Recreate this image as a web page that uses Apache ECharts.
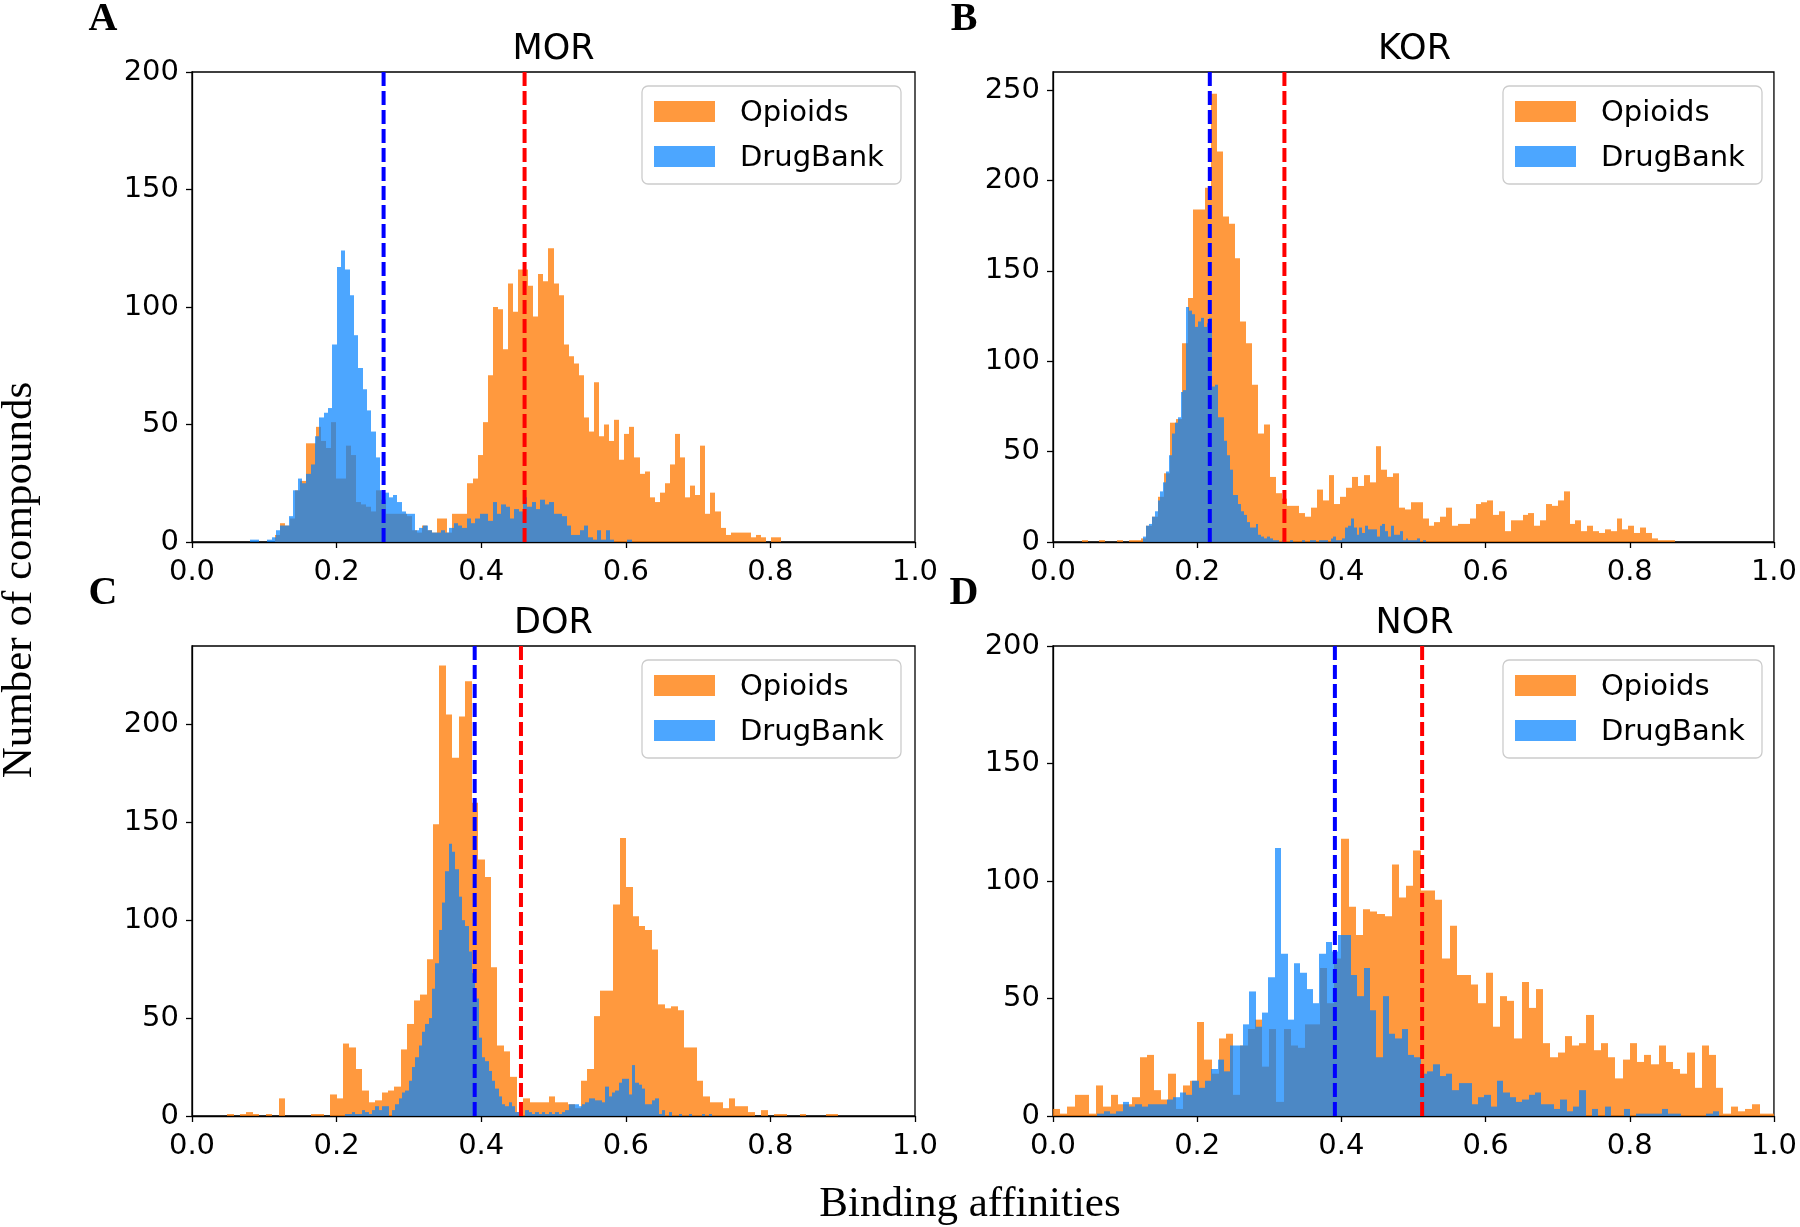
<!DOCTYPE html>
<html>
<head>
<meta charset="utf-8">
<title>Binding affinities</title>
<script src="https://cdn.jsdelivr.net/npm/echarts@6/dist/echarts.min.js"></script>
<style>
  html, body { margin: 0; padding: 0; background: #fff; }
  #chart { width: 1800px; height: 1227px; }
</style>
</head>
<body>
<div id="chart"></div>
<script>
// panel titles and letters
const panelTitles = ['MOR', 'KOR', 'DOR', 'NOR'];
const panelLetters = ['A', 'B', 'C', 'D'];
const seriesNames = ['Opioids', 'DrugBank'];
const yMax = [200, 260, 240, 200];

// mean lines (dashed)
const opioidMeans = [0.460, 0.321, 0.455, 0.512];
const drugbankMeans = [0.265, 0.2175, 0.391, 0.391];

// histograms: left edge of first bin, bin width, counts
const morOpioidsStart = 0.115, morOpioidsWidth = 0.007;
const morOpioids = [
  3,8,7,10,22,26,42,42,49,43,
  40,51,27,27,41,37,17,16,15,13,
  22,18,12,12,12,12,11,5,4,7,
  5,4,10,10,4,12,12,12,25,27,
  37,51,71,100,99,82,110,98,116,116,
  109,96,114,111,125,110,105,84,79,76,
  71,53,47,68,45,50,43,52,35,46,
  49,36,29,30,19,17,21,25,33,46,
  36,19,24,20,41,12,21,13,6,3,
  4,4,4,4,2,3,2,0,2,2
];
const morDrugBankStart = 0.08, morDrugBankWidth = 0.006;
const morDrugBank = [
  1,1,0,0,1,2,5,7,7,11,
  22,27,25,29,33,45,53,55,57,84,
  117,124,116,105,88,74,65,56,47,36,
  22,21,19,20,17,13,12,12,5,6,
  7,5,4,4,5,4,6,8,7,6,
  10,8,10,12,12,9,17,12,16,15,
  10,14,13,19,15,17,14,18,16,17,
  12,12,11,7,3,3,5,7,2,1,
  5,1,5,1,0,0,0,1
];

const korOpioidsStart = 0.040, korOpioidsWidth = 0.00815;
const korOpioids = [
  1,0,0,1,0,0,1,0,1,1,
  2,9,14,25,38,66,68,110,135,184,
  184,196,248,216,180,176,157,122,110,87,
  60,65,36,27,24,20,20,16,14,19,
  29,23,37,21,25,30,36,31,37,33,
  53,40,36,38,19,18,22,22,13,9,
  11,14,19,9,10,10,13,21,22,23,
  15,17,6,12,12,15,16,9,12,21,
  20,23,28,10,12,6,9,6,5,7,
  6,13,7,9,5,8,5,2,1,1,
  1
];
const korDrugBankStart = 0.125, korDrugBankWidth = 0.004;
const korDrugBank = [
  3,9,10,14,17,23,28,33,39,48,
  60,66,69,83,84,130,128,126,119,122,
  124,119,121,124,86,87,69,69,56,48,
  40,26,26,21,17,15,11,8,8,10,
  4,3,2,3,2,1,1,0,1,0,
  0,1,0,0,0,1,0,0,1,1,
  0,1,1,1,0,2,3,1,1,2,
  8,9,13,8,4,8,5,9,7,7,
  7,3,9,10,6,3,9,4,4,6,
  1,2,1,1,1,2,0,1
];

const dorOpioidsStart = 0.0397, dorOpioidsWidth = 0.0089;
const dorOpioids = [
  0,1,0,1,2,1,0,1,0,9,
  0,0,0,0,1,1,0,11,9,37,
  35,24,13,7,8,12,13,15,34,47,
  59,62,80,149,230,205,183,204,222,160,
  131,122,76,36,33,20,2,9,7,7,
  7,10,7,7,6,4,18,24,51,64,
  64,108,142,117,102,97,95,85,57,55,
  56,54,35,35,18,10,7,7,4,9,
  5,5,2,0,3,0,1,1,0,0,
  1,0,0,0,1,1
];
const dorDrugBankStart = 0.212, dorDrugBankWidth = 0.00461;
const dorDrugBank = [
  1,1,2,1,1,3,2,1,3,5,
  3,5,5,0,3,6,9,12,13,18,
  25,30,36,43,47,50,65,78,95,109,
  125,139,135,126,112,100,97,84,73,60,
  40,30,28,23,18,14,10,6,5,7,
  5,2,1,0,3,2,1,2,1,2,
  1,2,1,2,1,2,3,6,6,6,
  5,6,7,9,9,8,8,7,15,10,
  12,13,17,19,19,11,26,17,16,14,
  6,6,8,9,1,3,0,2,0,0,
  1,0,0,1,0,0,0,1,0,1
];

const norOpioidsStart = 0.0, norOpioidsWidth = 0.01;
const norOpioids = [
  3,1,4,9,9,1,13,4,9,5,
  5,8,25,26,11,7,18,3,13,15,
  40,24,18,33,35,9,30,37,41,21,
  37,6,37,30,29,39,39,63,48,67,
  118,89,77,88,87,86,85,107,93,98,
  113,96,96,92,67,81,60,60,56,48,
  61,38,51,49,33,57,46,54,31,25,
  27,34,30,31,43,28,31,25,16,24,
  31,23,26,22,30,23,20,18,27,12,
  30,26,12,1,4,2,3,5,1,1
];
const norDrugBankStart = 0.0437, norDrugBankWidth = 0.0088;
const norDrugBank = [
  0,0,1,2,1,2,6,4,5,4,
  5,5,5,7,8,10,9,15,12,15,
  20,24,19,30,30,39,53,38,44,59,
  114,69,41,65,61,54,48,69,74,70,
  77,77,60,51,63,45,25,51,35,33,
  37,26,25,18,19,22,17,18,11,14,
  14,5,8,9,4,15,10,8,6,7,
  9,10,5,5,3,7,2,4,11,0,
  3,0,4,0,0,3,0,1,1,1,
  1,3,1,1,0,0,0,0,1,2
];

const hists = [
  [[morOpioidsStart, morOpioidsWidth, morOpioids], [morDrugBankStart, morDrugBankWidth, morDrugBank]],
  [[korOpioidsStart, korOpioidsWidth, korOpioids], [korDrugBankStart, korDrugBankWidth, korDrugBank]],
  [[dorOpioidsStart, dorOpioidsWidth, dorOpioids], [dorDrugBankStart, dorDrugBankWidth, dorDrugBank]],
  [[norOpioidsStart, norOpioidsWidth, norOpioids], [norDrugBankStart, norDrugBankWidth, norDrugBank]]
];

// layout
const grids = [
  { left: 192, top: 72, width: 723, height: 470 },
  { left: 1053, top: 72, width: 723, height: 470 },
  { left: 192, top: 646, width: 723, height: 470 },
  { left: 1053, top: 646, width: 723, height: 470 }
];
const fillColors = ['rgba(255,127,14,0.8)', 'rgba(0,128,255,0.7)'];
const lineColors = ['#ff0000', '#0000ff'];
const tickFont = 'DejaVu Sans';

function toBins(start, width, counts) {
  return counts.map((c, i) => [start + i * width, start + (i + 1) * width, c]);
}

function binRenderer(color) {
  return function (params, api) {
    const top = api.coord([api.value(0), api.value(2)]);
    const base = api.coord([api.value(1), 0]);
    const x0 = Math.round(top[0]);
    const x1 = Math.round(base[0]);
    return {
      type: 'rect',
      shape: { x: x0, y: top[1], width: x1 - x0, height: base[1] - top[1] },
      style: { fill: color }
    };
  };
}

const xAxes = [], yAxes = [], series = [], graphics = [];

grids.forEach((g, k) => {
  xAxes.push({
    type: 'value', gridIndex: k, min: 0, max: 1, interval: 0.2,
    axisLine: { show: true, lineStyle: { color: '#000', width: 1.3 } },
    axisTick: { show: true, inside: false, length: 6, lineStyle: { color: '#000', width: 1.3 } },
    axisLabel: { fontSize: 29, fontFamily: tickFont, color: '#000', margin: 16,
                 formatter: v => v.toFixed(1) },
    splitLine: { show: false }
  });
  yAxes.push({
    type: 'value', gridIndex: k, min: 0, max: yMax[k], interval: 50,
    axisLine: { show: true, lineStyle: { color: '#000', width: 1.3 } },
    axisTick: { show: true, inside: false, length: 6, lineStyle: { color: '#000', width: 1.3 } },
    axisLabel: { fontSize: 29, fontFamily: tickFont, color: '#000', margin: 13,
                 showMaxLabel: yMax[k] % 50 === 0 },
    splitLine: { show: false }
  });

  hists[k].forEach((h, s) => {
    series.push({
      type: 'custom', name: seriesNames[s], xAxisIndex: k, yAxisIndex: k,
      silent: true, z: 2 + s,
      encode: { x: [0, 1], y: 2 },
      data: toBins(h[0], h[1], h[2]),
      renderItem: binRenderer(fillColors[s]),
      itemStyle: { color: fillColors[s] }
    });
  });

  [opioidMeans[k], drugbankMeans[k]].forEach((m, s) => {
    series.push({
      type: 'line', xAxisIndex: k, yAxisIndex: k, silent: true, z: 10,
      symbol: 'none', animation: false,
      data: [[m, 0], [m, yMax[k]]],
      lineStyle: { color: lineColors[s], width: 4, type: [14, 5] }
    });
  });

  // panel title
  graphics.push({
    type: 'text', x: g.left + g.width / 2, y: g.top - 22,
    style: { text: panelTitles[k], font: '35px "DejaVu Sans"', fill: '#000',
             align: 'center', verticalAlign: 'middle', textAlign: 'center', textVerticalAlign: 'middle' }
  });
  // panel letter
  graphics.push({
    type: 'text', x: g.left - 89, y: g.top - 52,
    style: { text: panelLetters[k], font: 'bold 40px "Liberation Serif"', fill: '#000',
             align: 'center', verticalAlign: 'middle', textAlign: 'center', textVerticalAlign: 'middle' }
  });

  // legend box
  const lx = g.left + 450, ly = g.top + 14;
  graphics.push({
    type: 'rect', shape: { x: lx, y: ly, width: 259, height: 98, r: 6 },
    style: { fill: 'rgba(255,255,255,0.8)', stroke: '#cccccc', lineWidth: 1.3 }, z: 20
  });
  seriesNames.forEach((name, s) => {
    graphics.push({
      type: 'rect', shape: { x: lx + 12, y: ly + 15 + s * 45, width: 61, height: 21 },
      style: { fill: fillColors[s] }, z: 21
    });
    graphics.push({
      type: 'text', x: lx + 98, y: ly + 27 + s * 45,
      style: { text: name, font: '29px "DejaVu Sans"', fill: '#000',
               align: 'left', verticalAlign: 'middle', textAlign: 'left', textVerticalAlign: 'middle' },
      z: 21
    });
  });
});

// shared axis titles
graphics.push({
  type: 'text', x: 20, y: 580, rotation: Math.PI / 2,
  style: { text: 'Number of compounds', font: '43px "Liberation Serif"', fill: '#000',
           align: 'center', verticalAlign: 'middle', textAlign: 'center', textVerticalAlign: 'middle' }
});
graphics.push({
  type: 'text', x: 970, y: 1205,
  style: { text: 'Binding affinities', font: '43px "Liberation Serif"', fill: '#000',
           align: 'center', verticalAlign: 'middle', textAlign: 'center', textVerticalAlign: 'middle' }
});

const chart = echarts.init(document.getElementById('chart'), null, { renderer: 'canvas' });
chart.setOption({
  animation: false,
  backgroundColor: '#ffffff',
  grid: grids.map(g => Object.assign({ show: true, borderColor: '#000', borderWidth: 1.3,
                                       backgroundColor: 'transparent' }, g)),
  xAxis: xAxes,
  yAxis: yAxes,
  series: series,
  graphic: graphics
});
</script>
</body>
</html>
